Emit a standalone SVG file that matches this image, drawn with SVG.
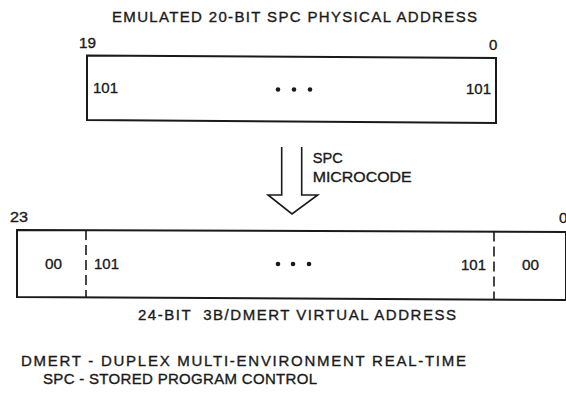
<svg xmlns="http://www.w3.org/2000/svg" width="566" height="394" viewBox="0 0 566 394">
<style>
text{font-family:"Liberation Sans",Arial,sans-serif;font-size:15px;fill:#1a1a1a;stroke:#1a1a1a;stroke-width:0.35}
.box{fill:none;stroke:#1a1a1a;stroke-width:2}
.dash{stroke:#1a1a1a;stroke-width:1.6;stroke-dasharray:10 5}
.dot{fill:#1a1a1a}
.arrow{fill:none;stroke:#1a1a1a;stroke-width:1.6;stroke-linejoin:miter}
</style>
<rect width="566" height="394" fill="#fff"/>
<g id="title">
<text x="112" y="22" textLength="365" lengthAdjust="spacing">EMULATED 20-BIT SPC PHYSICAL ADDRESS</text>
</g>
<g id="physical">
<text x="79" y="48" textLength="17" lengthAdjust="spacingAndGlyphs">19</text>
<text x="489" y="50">0</text>
<path class="box" d="M87 55.5 L496 58 L496 123 L87 120 Z"/>
<text x="93" y="93" textLength="25" lengthAdjust="spacingAndGlyphs">101</text>
<text x="466" y="94" textLength="25" lengthAdjust="spacingAndGlyphs">101</text>
<circle class="dot" cx="278" cy="89.5" r="2.3"/>
<circle class="dot" cx="294" cy="89.5" r="2.3"/>
<circle class="dot" cx="310" cy="89.5" r="2.3"/>
</g>
<g id="connectors">
<path class="arrow" d="M281.7 147 V195 H268 L292 214 L317.7 195 H301.7 V147"/>
<text x="312.7" y="163" textLength="30" lengthAdjust="spacingAndGlyphs">SPC</text>
<text x="312.7" y="182" textLength="99" lengthAdjust="spacingAndGlyphs">MICROCODE</text>
</g>
<g id="virtual">
<text x="10" y="222" textLength="18" lengthAdjust="spacingAndGlyphs">23</text>
<text x="559" y="223">0</text>
<path class="box" d="M17 230 L566 232 L566 300 L17 297 Z"/>
<line class="dash" x1="86" y1="230" x2="86" y2="297"/>
<line class="dash" x1="494" y1="231.5" x2="494" y2="300"/>
<text x="45" y="269" textLength="17" lengthAdjust="spacingAndGlyphs">00</text>
<text x="94" y="269" textLength="25" lengthAdjust="spacingAndGlyphs">101</text>
<circle class="dot" cx="278" cy="264" r="2.3"/>
<circle class="dot" cx="293" cy="264" r="2.3"/>
<circle class="dot" cx="309" cy="264" r="2.3"/>
<text x="461" y="270" textLength="25" lengthAdjust="spacingAndGlyphs">101</text>
<text x="522" y="270" textLength="17" lengthAdjust="spacingAndGlyphs">00</text>
</g>
<g id="caption">
<text x="138" y="320" textLength="318" lengthAdjust="spacing" xml:space="preserve">24-BIT  3B/DMERT VIRTUAL ADDRESS</text>
</g>
<g id="legend">
<text x="21" y="366" textLength="445" lengthAdjust="spacing">DMERT - DUPLEX MULTI-ENVIRONMENT REAL-TIME</text>
<text x="43" y="384" textLength="274" lengthAdjust="spacing">SPC - STORED PROGRAM CONTROL</text>
</g>
</svg>
